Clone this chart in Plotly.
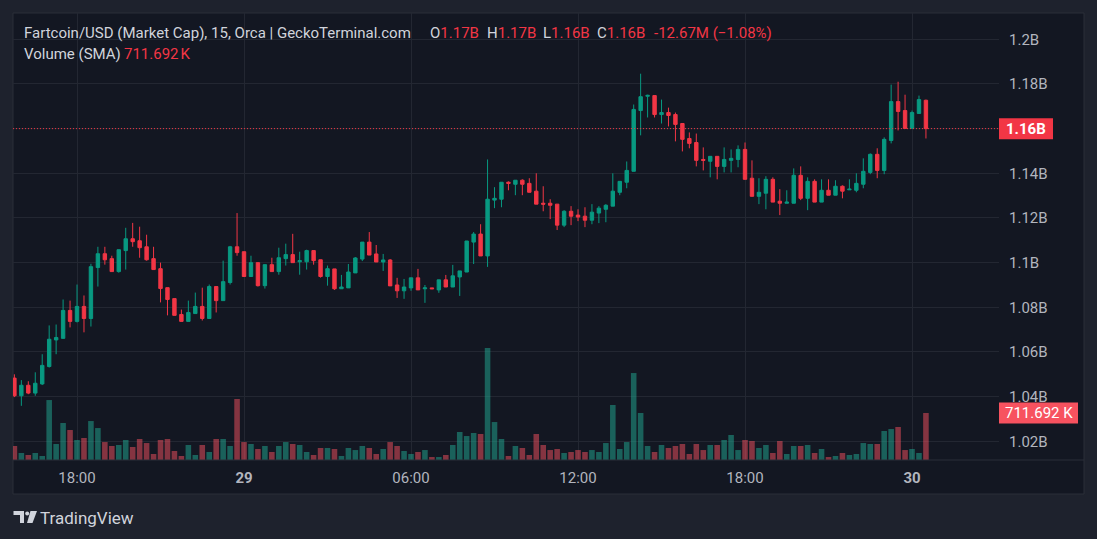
import pandas as pd
import plotly.graph_objects as go

# ---------------- data (prices in billions USD, volume in thousands) ----------------
start_time = "2024-12-28 15:45"
open_ = [1.0483, 1.0404, 1.0451, 1.0416, 1.0457, 1.0535, 1.0654, 1.0661, 1.0786, 1.0737,
         1.0804, 1.0750, 1.0978, 1.1040, 1.1018, 1.0960, 1.1054, 1.1107, 1.1098, 1.1071,
         1.1018, 1.0973, 1.0888, 1.0839, 1.0768, 1.0737, 1.0772, 1.0804, 1.0750, 1.0893,
         1.0830, 1.0911, 1.1071, 1.1049, 1.0938, 1.1000, 1.0897, 1.0991, 1.0960, 1.1018,
         1.1036, 1.1004, 1.1004, 1.1054, 1.1013, 1.0938, 1.0972, 1.0883, 1.0887, 1.0954,
         1.1016, 1.1092, 1.1039, 1.1003, 1.1012, 1.0900, 1.0874, 1.0887, 1.0932, 1.0883,
         1.0887, 1.0878, 1.0923, 1.0891, 1.0936, 1.0958, 1.1092, 1.1128, 1.1030, 1.1280,
         1.1284, 1.1360, 1.1351, 1.1369, 1.1355, 1.1320, 1.1266, 1.1266, 1.1262, 1.1168,
         1.1230, 1.1213, 1.1208, 1.1190, 1.1222, 1.1239, 1.1253, 1.1315, 1.1360, 1.1409,
         1.1681, 1.1745, 1.1748, 1.1663, 1.1672, 1.1663, 1.1623, 1.1556, 1.1538, 1.1462,
         1.1454, 1.1476, 1.1431, 1.1458, 1.1462, 1.1507, 1.1378, 1.1297, 1.1311, 1.1373,
         1.1275, 1.1266, 1.1266, 1.1391, 1.1288, 1.1364, 1.1271, 1.1324, 1.1302, 1.1342,
         1.1326, 1.1324, 1.1351, 1.1404, 1.1485, 1.1413, 1.1547, 1.1721, 1.1681, 1.1601,
         1.1668, 1.1727]
high = [1.0500, 1.0474, 1.0469, 1.0509, 1.0590, 1.0719, 1.0723, 1.0835, 1.0830, 1.0902,
        1.0853, 1.0995, 1.1071, 1.1071, 1.1031, 1.1058, 1.1156, 1.1178, 1.1161, 1.1125,
        1.1071, 1.1000, 1.0888, 1.0840, 1.0790, 1.0830, 1.0866, 1.0888, 1.0902, 1.0893,
        1.1009, 1.1075, 1.1222, 1.1049, 1.1031, 1.1000, 1.0991, 1.1022, 1.1067, 1.1085,
        1.1129, 1.1049, 1.1058, 1.1054, 1.1013, 1.0987, 1.0972, 1.0945, 1.0994, 1.1025,
        1.1092, 1.1137, 1.1079, 1.1039, 1.1016, 1.0932, 1.0927, 1.0932, 1.0972, 1.0900,
        1.0887, 1.0923, 1.0945, 1.0990, 1.0963, 1.1097, 1.1137, 1.1172, 1.1462, 1.1338,
        1.1360, 1.1364, 1.1369, 1.1373, 1.1378, 1.1400, 1.1342, 1.1284, 1.1262, 1.1235,
        1.1253, 1.1239, 1.1248, 1.1262, 1.1253, 1.1262, 1.1400, 1.1364, 1.1453, 1.1708,
        1.1846, 1.1752, 1.1748, 1.1730, 1.1694, 1.1672, 1.1623, 1.1583, 1.1578, 1.1516,
        1.1476, 1.1476, 1.1516, 1.1507, 1.1525, 1.1538, 1.1458, 1.1378, 1.1387, 1.1382,
        1.1329, 1.1324, 1.1422, 1.1431, 1.1382, 1.1373, 1.1373, 1.1373, 1.1369, 1.1346,
        1.1373, 1.1400, 1.1467, 1.1489, 1.1512, 1.1561, 1.1797, 1.1810, 1.1752, 1.1681,
        1.1748, 1.1730]
low = [1.0398, 1.0359, 1.0411, 1.0404, 1.0452, 1.0530, 1.0590, 1.0660, 1.0710, 1.0732,
       1.0688, 1.0714, 1.0893, 1.0991, 1.0958, 1.0955, 1.0969, 1.1071, 1.1022, 1.1009,
       1.0969, 1.0822, 1.0764, 1.0764, 1.0737, 1.0737, 1.0772, 1.0741, 1.0750, 1.0777,
       1.0830, 1.0902, 1.1031, 1.0938, 1.0938, 1.0893, 1.0884, 1.0960, 1.0946, 1.0987,
       1.1000, 1.0946, 1.0969, 1.0991, 1.0933, 1.0897, 1.0878, 1.0883, 1.0887, 1.0954,
       1.1007, 1.1034, 1.1003, 1.0963, 1.0896, 1.0842, 1.0838, 1.0874, 1.0878, 1.0820,
       1.0883, 1.0865, 1.0891, 1.0891, 1.0851, 1.0958, 1.0994, 1.1030, 1.0981, 1.1244,
       1.1248, 1.1324, 1.1302, 1.1302, 1.1315, 1.1262, 1.1230, 1.1195, 1.1146, 1.1159,
       1.1168, 1.1186, 1.1159, 1.1172, 1.1177, 1.1181, 1.1253, 1.1302, 1.1333, 1.1409,
       1.1570, 1.1650, 1.1650, 1.1623, 1.1610, 1.1543, 1.1498, 1.1512, 1.1431, 1.1413,
       1.1382, 1.1373, 1.1404, 1.1404, 1.1427, 1.1373, 1.1297, 1.1262, 1.1239, 1.1271,
       1.1213, 1.1266, 1.1266, 1.1280, 1.1235, 1.1271, 1.1271, 1.1302, 1.1302, 1.1288,
       1.1326, 1.1315, 1.1333, 1.1396, 1.1378, 1.1396, 1.1534, 1.1592, 1.1601, 1.1601,
       1.1668, 1.1556]
close = [1.0404, 1.0451, 1.0416, 1.0460, 1.0540, 1.0657, 1.0665, 1.0786, 1.0737, 1.0804,
         1.0750, 1.0982, 1.1040, 1.1013, 1.0960, 1.1058, 1.1107, 1.1094, 1.1067, 1.1013,
         1.0969, 1.0884, 1.0835, 1.0764, 1.0737, 1.0777, 1.0804, 1.0750, 1.0893, 1.0830,
         1.0915, 1.1071, 1.1045, 1.0938, 1.1000, 1.0897, 1.0991, 1.0960, 1.1022, 1.1036,
         1.1000, 1.1009, 1.1054, 1.1009, 1.0938, 1.0973, 1.0883, 1.0891, 1.0958, 1.1021,
         1.1092, 1.1034, 1.1003, 1.1012, 1.0896, 1.0874, 1.0891, 1.0932, 1.0878, 1.0887,
         1.0883, 1.0923, 1.0891, 1.0941, 1.0963, 1.1097, 1.1128, 1.1030, 1.1284, 1.1288,
         1.1360, 1.1355, 1.1369, 1.1351, 1.1315, 1.1262, 1.1262, 1.1257, 1.1168, 1.1230,
         1.1208, 1.1204, 1.1190, 1.1226, 1.1244, 1.1257, 1.1320, 1.1364, 1.1413, 1.1686,
         1.1743, 1.1749, 1.1663, 1.1672, 1.1659, 1.1619, 1.1552, 1.1534, 1.1458, 1.1458,
         1.1476, 1.1431, 1.1462, 1.1467, 1.1507, 1.1373, 1.1297, 1.1315, 1.1373, 1.1271,
         1.1266, 1.1271, 1.1391, 1.1288, 1.1364, 1.1271, 1.1324, 1.1302, 1.1342, 1.1320,
         1.1329, 1.1355, 1.1409, 1.1485, 1.1413, 1.1552, 1.1721, 1.1677, 1.1601, 1.1672,
         1.1730, 1.1600]
volume_k = [212, 106, 76, 106, 61, 908, 242, 560, 454, 303,
            333, 590, 484, 272, 212, 227, 303, 197, 318, 257,
            91, 303, 318, 136, 61, 227, 76, 227, 121, 318,
            318, 212, 924, 272, 242, 167, 212, 121, 212, 272,
            242, 227, 121, 76, 182, 182, 167, 61, 182, 151,
            212, 182, 91, 167, 272, 212, 136, 91, 121, 151,
            45, 45, 76, 227, 424, 363, 409, 394, 1696, 575,
            318, 61, 212, 182, 76, 394, 227, 151, 167, 106,
            121, 151, 121, 151, 121, 257, 833, 167, 272, 1317,
            712, 212, 121, 227, 182, 212, 242, 91, 242, 151,
            227, 227, 303, 379, 151, 303, 288, 182, 227, 106,
            288, 91, 212, 212, 227, 106, 167, 45, 61, 106,
            76, 91, 257, 242, 242, 439, 469, 500, 151, 167,
            106, 711.692]

price_ticks = [1.02, 1.04, 1.06, 1.08, 1.10, 1.12, 1.14, 1.16, 1.18, 1.20]
# the 1.16B label sits under the last-price tag, so the axis shows no text there
price_tick_labels = ["1.02B", "1.04B", "1.06B", "1.08B", "1.1B", "1.12B", "1.14B", "", "1.18B", "1.2B"]
time_ticks = ["2024-12-28 18:00", "2024-12-29 00:00", "2024-12-29 06:00",
              "2024-12-29 12:00", "2024-12-29 18:00", "2024-12-30 00:00"]
time_tick_labels = ["18:00", "<b>29</b>", "06:00", "12:00", "18:00", "<b>30</b>"]

title_text = "Fartcoin/USD (Market Cap), 15, Orca | GeckoTerminal.com"
ohlc_labels = [("O", "1.17B"), ("H", "1.17B"), ("L", "1.16B"), ("C", "1.16B")]
change_text = "-12.67M (\u22121.08%)"
vol_title = "Volume (SMA)"
vol_value_text = "711.692\u202fK"
last_price_text = "1.16B"
last_vol_text = "711.692 K"

# ---------------- styling ----------------
W, H = 1097, 539
PL, PR, PT, PB = 13, 999, 13, 460
UP, DOWN = "#089981", "#f23645"
VOL_UP, VOL_DOWN = "rgba(34,171,148,0.5)", "rgba(247,82,95,0.5)"
TEXT = "#d1d4dc"
TICK = "#b2b5be"
GRID = "#232732"
FONT = "Roboto, 'Noto Sans', sans-serif"
FS = 15


def px(x):
    return (x - PL) / (PR - PL)


def py(y):
    return (PB - y) / (PB - PT)


times = pd.date_range(start_time, periods=len(close), freq="15min")
vol_colors = [VOL_UP if c >= o else VOL_DOWN for o, c in zip(open_, close)]

fig = go.Figure()
fig.add_trace(go.Bar(x=times, y=volume_k, marker=dict(color=vol_colors, line=dict(width=0)),
                     yaxis="y", hoverinfo="skip"))
fig.add_trace(go.Candlestick(
    x=times, open=open_, high=high, low=low, close=close, yaxis="y2",
    increasing=dict(line=dict(color=UP, width=1), fillcolor=UP),
    decreasing=dict(line=dict(color=DOWN, width=1), fillcolor=DOWN),
    whiskerwidth=0, hoverinfo="skip"))

price_range = [1.20 - (PB - 39.3) / 2233.5, 1.20 + (39.3 - PT) / 2233.5]
last_vol = volume_k[-1]
vol_range = [0, last_vol * (PB - PT) / 47.0]
k_per_px = vol_range[1] / (PB - PT)
b_per_px = 1 / 2233.5
last_close = close[-1]

shapes = [
    # chart panel
    dict(type="rect", xref="paper", yref="paper", x0=px(13), x1=px(1084), y0=py(494), y1=py(13),
         fillcolor="#131722", line=dict(color="#2a2e39", width=1), layer="below"),
    # time axis separator
    dict(type="line", xref="paper", yref="paper", x0=px(13), x1=px(1084), y0=0, y1=0,
         line=dict(color="#2a2e39", width=1)),
    # last price dotted line
    dict(type="line", xref="paper", yref="y2", x0=0, x1=1, y0=last_close, y1=last_close,
         line=dict(color=DOWN, width=1, dash="1px,2px")),
    # price tag
    dict(type="rect", xref="paper", yref="y2", x0=px(999), x1=px(1053),
         y0=last_close - 10.5 * b_per_px, y1=last_close + 10.5 * b_per_px,
         fillcolor=DOWN, line=dict(width=0)),
    # volume tag
    dict(type="rect", xref="paper", yref="y", x0=px(999), x1=px(1078),
         y0=last_vol - 10.5 * k_per_px, y1=last_vol + 10.5 * k_per_px,
         fillcolor="#f7525f", line=dict(width=0)),
    # TradingView logo pieces
    dict(type="rect", xref="paper", yref="paper", x0=px(13.5), x1=px(24), y0=py(515), y1=py(511),
         fillcolor=TEXT, line=dict(width=0)),
    dict(type="rect", xref="paper", yref="paper", x0=px(20), x1=px(24), y0=py(523), y1=py(511),
         fillcolor=TEXT, line=dict(width=0)),
    dict(type="circle", xref="paper", yref="paper", x0=px(25.2), x1=px(29.2), y0=py(515.5), y1=py(511.5),
         fillcolor=TEXT, line=dict(width=0)),
    dict(type="path", xref="paper", yref="paper",
         path=f"M {px(30.5)} {py(511)} L {px(37)} {py(511)} L {px(32.5)} {py(523)} L {px(27)} {py(523)} Z",
         fillcolor=TEXT, line=dict(width=0)),
]

annotations = [
    dict(text=title_text, x=px(22), y=py(33), xref="paper", yref="paper", xanchor="left",
         yanchor="middle", showarrow=False, font=dict(color=TEXT, size=FS, family=FONT)),
    dict(text=vol_title, x=px(22), y=py(54), xref="paper", yref="paper", xanchor="left",
         yanchor="middle", showarrow=False, font=dict(color=TEXT, size=FS, family=FONT)),
    dict(text=vol_value_text, x=px(122), y=py(54), xref="paper", yref="paper", xanchor="left",
         yanchor="middle", showarrow=False, font=dict(color=DOWN, size=FS, family=FONT)),
    dict(text=change_text, x=px(652), y=py(33), xref="paper", yref="paper", xanchor="left",
         yanchor="middle", showarrow=False, font=dict(color=DOWN, size=FS, family=FONT)),
    dict(text=f"<b>{last_price_text}</b>", x=px(1026), y=last_close, xref="paper", yref="y2",
         xanchor="center", yanchor="middle", showarrow=False,
         font=dict(color="#ffffff", size=FS, family=FONT)),
    dict(text=last_vol_text, x=px(1038.5), y=last_vol, xref="paper", yref="y", xanchor="center",
         yanchor="middle", showarrow=False, font=dict(color="#ffffff", size=FS, family=FONT)),
    dict(text="TradingView", x=px(38), y=py(518), xref="paper", yref="paper", xanchor="left",
         yanchor="middle", showarrow=False, font=dict(color=TEXT, size=17, family=FONT)),
]
for (lab, val), xpos in zip(ohlc_labels, [428, 485, 541, 595]):
    annotations.append(dict(
        text=f"<span style='color:{TEXT}'>{lab}</span><span style='color:{DOWN}'>{val}</span>",
        x=px(xpos), y=py(33), xref="paper", yref="paper", xanchor="left", yanchor="middle",
        showarrow=False, font=dict(size=FS, family=FONT)))

fig.update_layout(
    width=W, height=H,
    margin=dict(l=PL, r=W - PR, t=PT, b=H - PB),
    paper_bgcolor="#1e222d", plot_bgcolor="#131722",
    showlegend=False, bargap=0.2, hovermode=False,
    font=dict(family=FONT, color=TICK, size=FS),
    xaxis=dict(type="date", range=[times[0] - pd.Timedelta(minutes=3), times[0] + pd.Timedelta(minutes=15 * 141.5)],
               tickvals=time_ticks, ticktext=time_tick_labels, showgrid=True, gridcolor=GRID,
               gridwidth=1, zeroline=False, showline=False, ticks="", ticklabelstandoff=7,
               rangeslider=dict(visible=False), tickfont=dict(color=TICK, size=FS, family=FONT)),
    yaxis=dict(range=vol_range, visible=False, showgrid=False, zeroline=False, fixedrange=True),
    yaxis2=dict(range=price_range, overlaying="y", side="right", tickvals=price_ticks,
                ticktext=price_tick_labels, showgrid=True, gridcolor=GRID, gridwidth=1,
                zeroline=False, showline=False, ticks="", ticklabelstandoff=9,
                tickfont=dict(color=TICK, size=FS, family=FONT)),
    shapes=shapes, annotations=annotations,
)

fig.write_html("out.html", config={"displayModeBar": False},
               post_script="document.body.style.margin='0';document.body.style.overflow='hidden';")
